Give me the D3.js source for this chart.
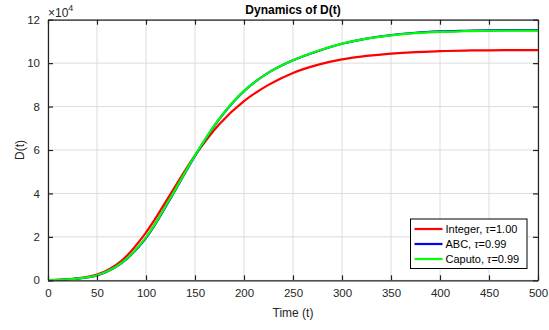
<!DOCTYPE html>
<html>
<head>
<meta charset="utf-8">
<script src="https://cdn.jsdelivr.net/npm/d3@7"></script>
<style>
  body { margin: 0; background: #fff; }
  svg { font-family: "Liberation Sans", Arial, sans-serif; }
</style>
</head>
<body>
<div id="chart"></div>
<script>
// sample times and curves (units of 1e4)
const times = [0, 25, 50, 75, 100, 125, 150, 175, 200, 225, 250, 275, 300, 325, 350, 375, 400, 425, 450, 475, 500];
const integerVals = [0.01, 0.07, 0.26, 0.9, 2.2, 3.97, 5.75, 7.2, 8.25, 9.0, 9.55, 9.92, 10.17, 10.33, 10.44, 10.51, 10.55, 10.58, 10.59, 10.6, 10.6];
const abcVals = [0.01, 0.06, 0.22, 0.79, 1.95, 3.77, 5.73, 7.44, 8.71, 9.56, 10.13, 10.55, 10.89, 11.13, 11.29, 11.4, 11.46, 11.49, 11.51, 11.52, 11.52];
const caputoVals = [0.01, 0.06, 0.23, 0.8, 1.98, 3.8, 5.75, 7.45, 8.72, 9.56, 10.13, 10.56, 10.9, 11.13, 11.28, 11.38, 11.44, 11.47, 11.49, 11.5, 11.5];

const xTicks = [0, 50, 100, 150, 200, 250, 300, 350, 400, 450, 500];
const yTicks = [0, 2, 4, 6, 8, 10, 12];

const seriesNames = ["Integer", "ABC", "Caputo"];
const seriesTau = ["1.00", "0.99", "0.99"];
const seriesColors = ["#ff0000", "#0000ff", "#00ff00"];

const width = 549, height = 330;
const margin = {top: 19.7, right: 11, bottom: 49.7, left: 48};

let svg = d3.select('#chart')
            .append('svg')
            .attr('width', width)
            .attr('height', height);

let x = d3.scaleLinear().domain([0, 500]).range([margin.left, width - margin.right]);
let y = d3.scaleLinear().domain([0, 12]).range([height - margin.bottom, margin.top]);

// grid
svg.append('g')
   .selectAll('line.vgrid')
   .data(xTicks)
   .enter()
   .append('line')
   .attr('x1', d => x(d)).attr('x2', d => x(d))
   .attr('y1', y(0)).attr('y2', y(12))
   .attr('stroke', '#dcdcdc').attr('stroke-width', 1);

svg.append('g')
   .selectAll('line.hgrid')
   .data(yTicks)
   .enter()
   .append('line')
   .attr('x1', x(0)).attr('x2', x(500))
   .attr('y1', d => y(d)).attr('y2', d => y(d))
   .attr('stroke', '#dcdcdc').attr('stroke-width', 1);

// curves
let allSeries = [integerVals, abcVals, caputoVals];
let line = d3.line()
             .x((d, i) => x(times[i]))
             .y(d => y(d))
             .curve(d3.curveCatmullRom.alpha(0.5));

svg.append('g')
   .selectAll('path')
   .data(allSeries)
   .enter()
   .append('path')
   .attr('d', d => line(d))
   .attr('fill', 'none')
   .attr('stroke', (d, i) => seriesColors[i])
   .attr('stroke-width', 2.2);

// axes (ticks inward on all four sides)
function styleAxis(g) {
  g.select('.domain').attr('stroke', '#222').attr('stroke-width', 1.2);
  g.selectAll('.tick line').attr('stroke', '#222').attr('stroke-width', 1.2);
  g.selectAll('.tick text').attr('fill', '#262626').style('font-size', '11.5px');
}

svg.append('g')
   .attr('transform', `translate(0,${y(0)})`)
   .call(d3.axisBottom(x).tickValues(xTicks).tickSizeInner(-5).tickSizeOuter(0).tickPadding(9))
   .call(styleAxis);

svg.append('g')
   .attr('transform', `translate(0,${y(12)})`)
   .call(d3.axisTop(x).tickValues(xTicks).tickSizeInner(-5).tickSizeOuter(0).tickFormat(''))
   .call(styleAxis);

svg.append('g')
   .attr('transform', `translate(${x(0)},0)`)
   .call(d3.axisLeft(y).tickValues(yTicks).tickSizeInner(-5).tickSizeOuter(0).tickPadding(8))
   .call(styleAxis);

svg.append('g')
   .attr('transform', `translate(${x(500)},0)`)
   .call(d3.axisRight(y).tickValues(yTicks).tickSizeInner(-5).tickSizeOuter(0).tickFormat(''))
   .call(styleAxis);

// exponent label
let expo = svg.append('text')
              .attr('x', x(0))
              .attr('y', 16.5)
              .attr('fill', '#262626')
              .style('font-size', '12px');
expo.append('tspan').text('\u00d710');
expo.append('tspan').attr('dy', -6).style('font-size', '9px').text('4');

// title and axis labels
svg.append('text')
   .attr('x', (x(0) + x(500)) / 2)
   .attr('y', 14)
   .attr('text-anchor', 'middle')
   .attr('font-weight', 'bold')
   .style('font-size', '12px')
   .attr('fill', '#000')
   .text('Dynamics of D(t)');

svg.append('text')
   .attr('x', (x(0) + x(500)) / 2)
   .attr('y', 317)
   .attr('text-anchor', 'middle')
   .style('font-size', '12px')
   .attr('fill', '#262626')
   .text('Time (t)');

svg.append('text')
   .attr('transform', `translate(24,${(y(0) + y(12)) / 2}) rotate(-90)`)
   .attr('text-anchor', 'middle')
   .style('font-size', '12px')
   .attr('fill', '#262626')
   .text('D(t)');

// legend
let legend = svg.append('g').attr('transform', 'translate(410.5,219)');

legend.append('rect')
      .attr('width', 116.5)
      .attr('height', 49.5)
      .attr('fill', '#fff')
      .attr('stroke', '#000')
      .attr('stroke-width', 1);

let rows = legend.selectAll('g.row')
                 .data(seriesNames)
                 .enter()
                 .append('g')
                 .attr('transform', (d, i) => `translate(0,${10 + i * 15})`);

rows.append('line')
    .attr('x1', 4).attr('x2', 32)
    .attr('stroke', (d, i) => seriesColors[i])
    .attr('stroke-width', 2.2);

let label = rows.append('text')
                .attr('x', 35)
                .attr('y', 4)
                .style('font-size', '11px')
                .attr('fill', '#000');

label.append('tspan').text(d => d + ', ');
label.append('tspan')
     .style('font-family', '"Liberation Serif", "Times New Roman", serif')
     .style('font-style', 'italic')
     .style('font-size', '12px')
     .text('\u03c4');
label.append('tspan').text((d, i) => '=' + seriesTau[i]);
</script>
</body>
</html>
